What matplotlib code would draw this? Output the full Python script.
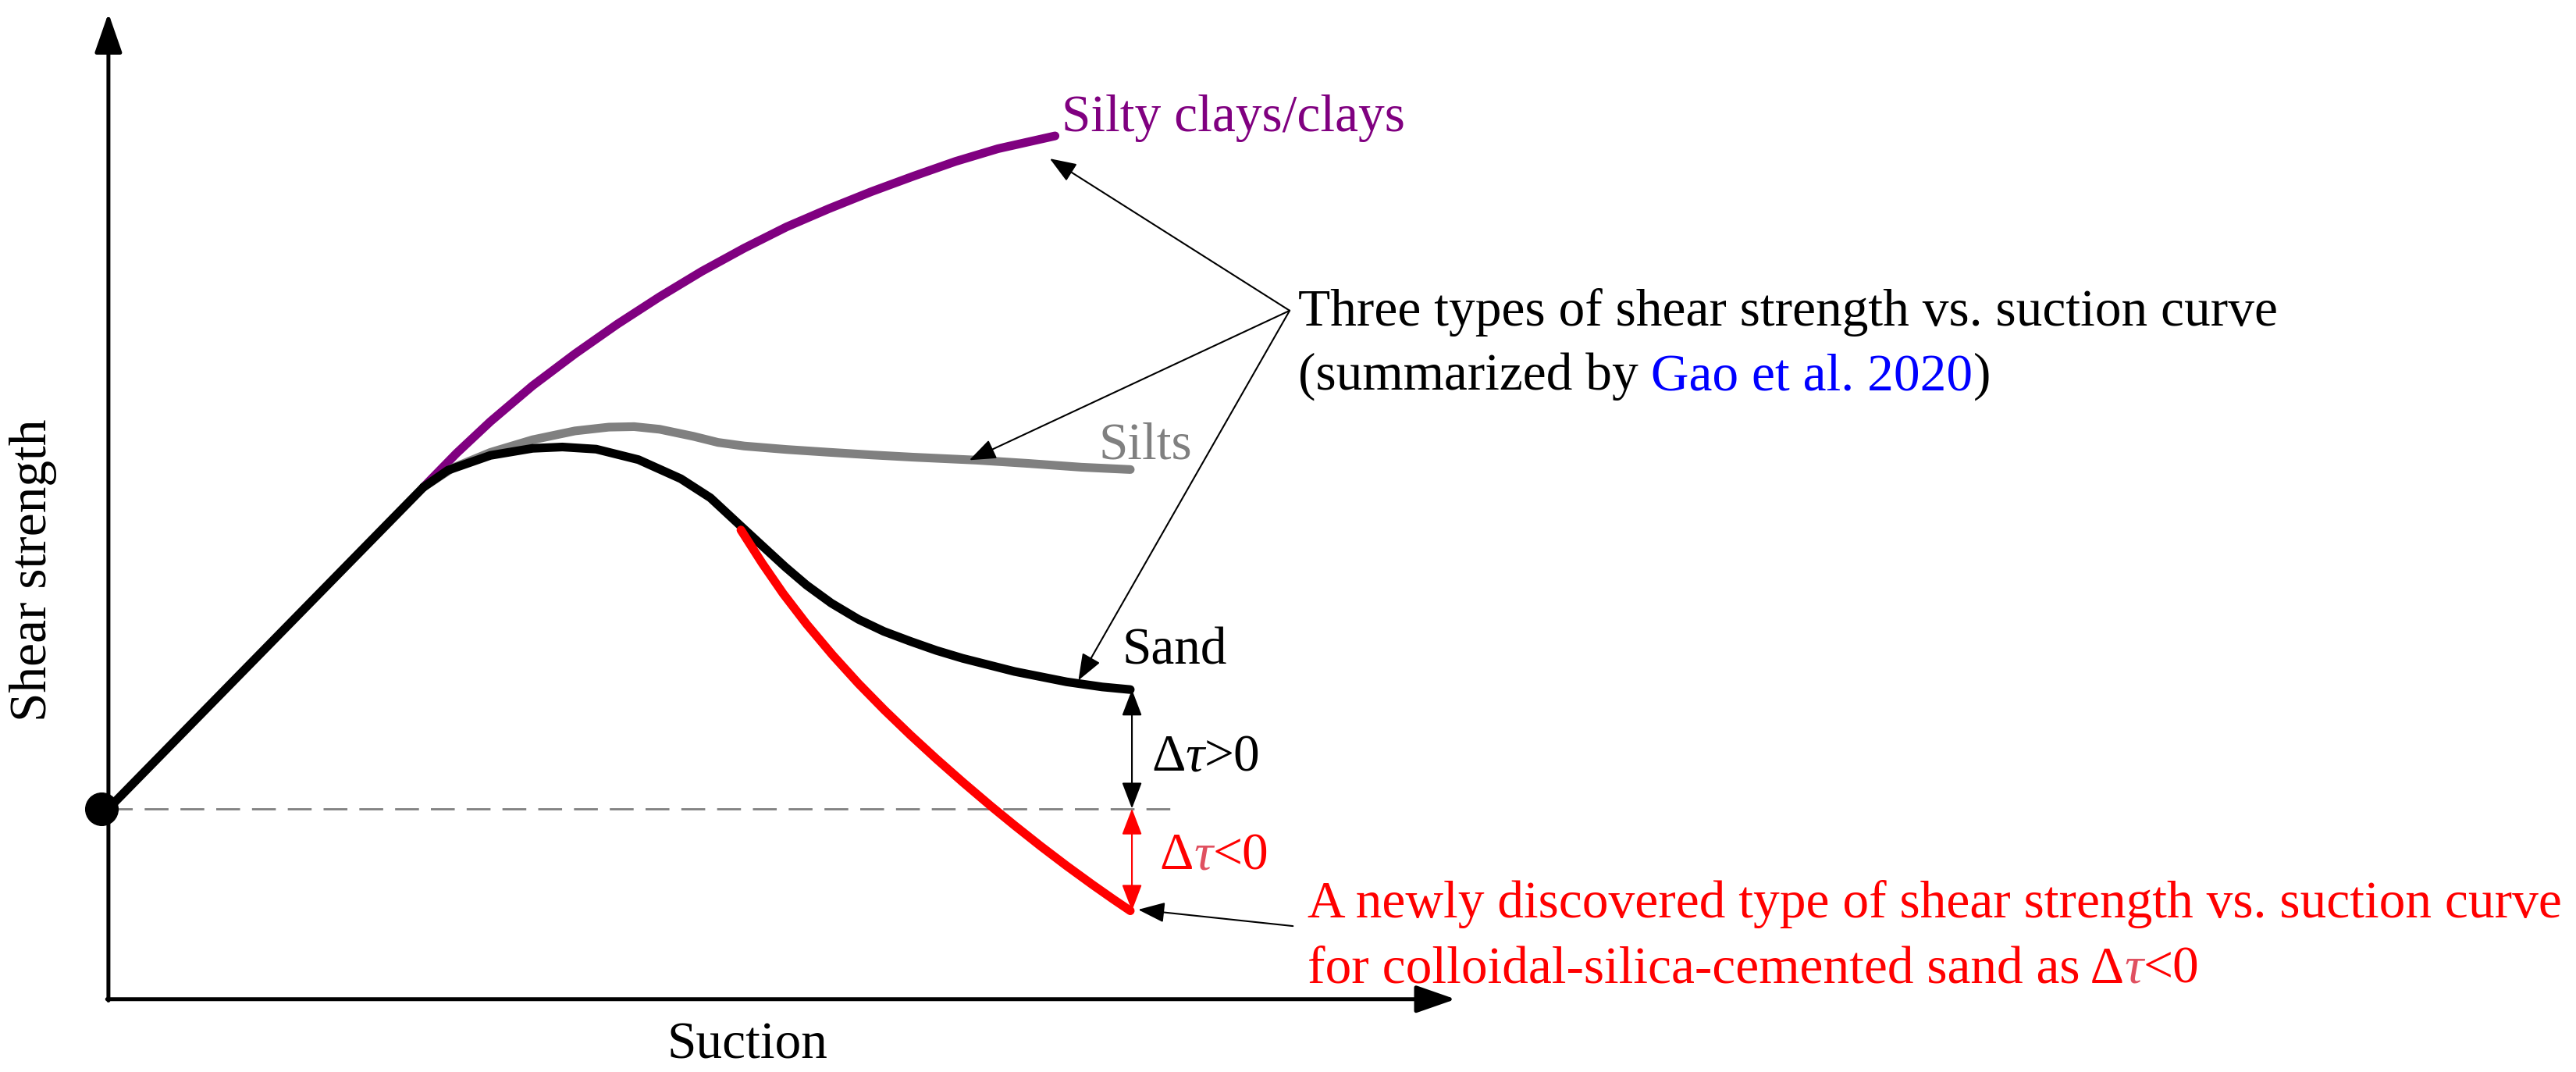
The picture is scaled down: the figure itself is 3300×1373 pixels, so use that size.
import matplotlib
matplotlib.use("Agg")
import matplotlib.pyplot as plt

plt.rcParams['font.family'] = ['Liberation Serif', 'DejaVu Serif']

# curve data (suction, shear strength), arbitrary units
linear_s = [0.0, 19.18]
linear_t = [11.6, 31.16]

clay_s = [19.18, 21.19, 23.25, 25.82, 28.40, 30.97, 33.55, 36.12, 38.70,
          41.27, 43.85, 46.42, 49.00, 51.57, 54.14, 57.62]
clay_t = [31.16, 33.22, 35.15, 37.33, 39.27, 41.07, 42.74, 44.29, 45.70,
          46.99, 48.10, 49.13, 50.08, 50.98, 51.75, 52.53]

silt_s = [19.18, 20.93, 23.25, 25.82, 28.40, 30.46, 32.00, 33.55, 35.61, 37.10,
          38.70, 41.27, 43.85, 46.42, 49.00, 52.87, 56.00, 59.23, 62.20]
silt_t = [31.16, 32.31, 33.27, 34.04, 34.58, 34.81, 34.84, 34.68, 34.25, 33.88,
          33.66, 33.45, 33.28, 33.12, 32.98, 32.80, 32.60, 32.37, 32.23]

sand_s = [19.18, 20.67, 23.25, 25.82, 27.63, 29.69, 32.26, 34.84, 36.64, 38.44,
          39.98, 41.20, 42.49, 44.00, 45.66, 47.20, 48.83, 50.40, 52.00, 55.16,
          58.33, 60.50, 62.20]
sand_t = [31.16, 32.19, 33.09, 33.52, 33.60, 33.47, 32.83, 31.67, 30.51, 28.84,
          27.42, 26.30, 25.20, 24.10, 23.11, 22.38, 21.77, 21.22, 20.74, 19.94,
          19.31, 19.00, 18.84]

cem_s = [38.50, 39.80, 41.07, 42.49, 44.08, 45.66, 47.24, 48.83, 50.41, 52.00,
         53.74, 55.16, 56.75, 58.33, 59.91, 61.18, 62.20]
cem_t = [28.55, 26.52, 24.68, 22.83, 20.94, 19.20, 17.59, 16.06, 14.61, 13.21,
         11.73, 10.57, 9.31, 8.11, 6.96, 6.07, 5.38]

ref_t = 11.6        # strength at zero suction
ref_end = 65.2      # end of dashed reference line
end_s = 62.3        # suction where the delta arrows sit
sand_end_t = 18.84
cem_end_t = 5.38

PURPLE = '#800080'
GRAY = '#808080'
RED = '#ff0000'
PINK = '#e05060'
BLUE = '#0000ff'
FS = 48.5

fig = plt.figure(figsize=(33, 13.73), dpi=100)
ax = fig.add_axes([0, 0, 1, 1])
ax.set_xlim(-6.6, 150.2)
ax.set_ylim(-4.43, 60.8)
ax.axis('off')

# axes drawn as arrows
axis_arrow = dict(arrowstyle='-|>,head_length=31,head_width=10.8',
                  mutation_scale=1, lw=3.6, color='black', shrinkA=0, shrinkB=0)
ax.annotate('', xy=(0, 60.0), xytext=(0, -0.08), arrowprops=axis_arrow)
ax.annotate('', xy=(82.0, 0), xytext=(-0.08, 0), arrowprops=axis_arrow)

ax.plot([0, ref_end], [ref_t, ref_t], color=GRAY, lw=2.0, dashes=(11, 5.5), zorder=2)

lw = 8.0
kw = dict(lw=lw, solid_capstyle='round', solid_joinstyle='round')
ax.plot(clay_s, clay_t, color=PURPLE, zorder=3, **kw)
ax.plot(silt_s, silt_t, color=GRAY, zorder=3, **kw)
ax.plot(sand_s, sand_t, color='black', zorder=4, **kw)
ax.plot(cem_s, cem_t, color=RED, zorder=5, **kw)
ax.plot(linear_s, linear_t, color='black', zorder=4, **kw)
ax.plot([-0.4], [ref_t], 'o', color='black', ms=30, zorder=6)

thin = dict(arrowstyle='-|>,head_length=21,head_width=8',
            mutation_scale=1, lw=1.5, color='black', shrinkA=0, shrinkB=0)

# pointers from the "three types" label
src = (71.9, 41.9)
for tip in [(57.3, 51.15), (52.4, 32.8), (59.04, 19.4)]:
    ax.annotate('', xy=tip, xytext=src, arrowprops=thin)
ax.annotate('', xy=(62.68, 5.45), xytext=(72.1, 4.45), arrowprops=thin)

# delta arrows
dbl = dict(arrowstyle='<|-|>,head_length=21,head_width=8',
           mutation_scale=1, lw=1.5, shrinkA=0, shrinkB=0)
ax.annotate('', xy=(end_s, sand_end_t), xytext=(end_s, ref_t),
            arrowprops=dict(dbl, color='black'))
ax.annotate('', xy=(end_s, ref_t), xytext=(end_s, cem_end_t),
            arrowprops=dict(dbl, color=RED))


def rich(x, y, pieces):
    prev = None
    for txt, col, style in pieces:
        if prev is None:
            prev = ax.text(x, y, txt, color=col, style=style, fontsize=FS,
                           ha='left', va='baseline')
        else:
            prev = ax.annotate(txt, xy=(1, 0), xycoords=prev, color=col,
                               style=style, fontsize=FS, ha='left', va='bottom')
    return prev


ax.text(58.0, 52.8, 'Silty clays/clays', color=PURPLE, fontsize=FS, va='baseline')
ax.text(60.3, 32.9, 'Silts', color=GRAY, fontsize=FS, va='baseline')
ax.text(61.7, 20.4, 'Sand', color='black', fontsize=FS, va='baseline')

rich(63.5, 13.9, [('\u0394', 'black', 'normal'), ('\u03c4', 'black', 'italic'),
                  ('>0', 'black', 'normal')])
rich(64.0, 7.9, [('\u0394', RED, 'normal'), ('\u03c4', PINK, 'italic'),
                 ('<0', RED, 'normal')])

ax.text(72.4, 41.0, 'Three types of shear strength vs. suction curve',
        color='black', fontsize=FS, va='baseline')
rich(72.4, 37.1, [('(summarized by', 'black', 'normal'),
                  (' Gao et al. 2020', BLUE, 'normal'),
                  (')', 'black', 'normal')])

ax.text(73.0, 5.0, 'A newly discovered type of shear strength vs. suction curve',
        color=RED, fontsize=FS, va='baseline')
rich(73.0, 1.0, [('for colloidal-silica-cemented sand as \u0394', RED, 'normal'),
                 ('\u03c4', PINK, 'italic'), ('<0', RED, 'normal')])

ax.text(38.9, -3.6, 'Suction', fontsize=FS, ha='center', va='baseline')
ax.text(-4.6, 26.1, 'Shear strength', fontsize=FS, ha='center', va='center',
        rotation=90)

fig.savefig('out.png', dpi=100)
